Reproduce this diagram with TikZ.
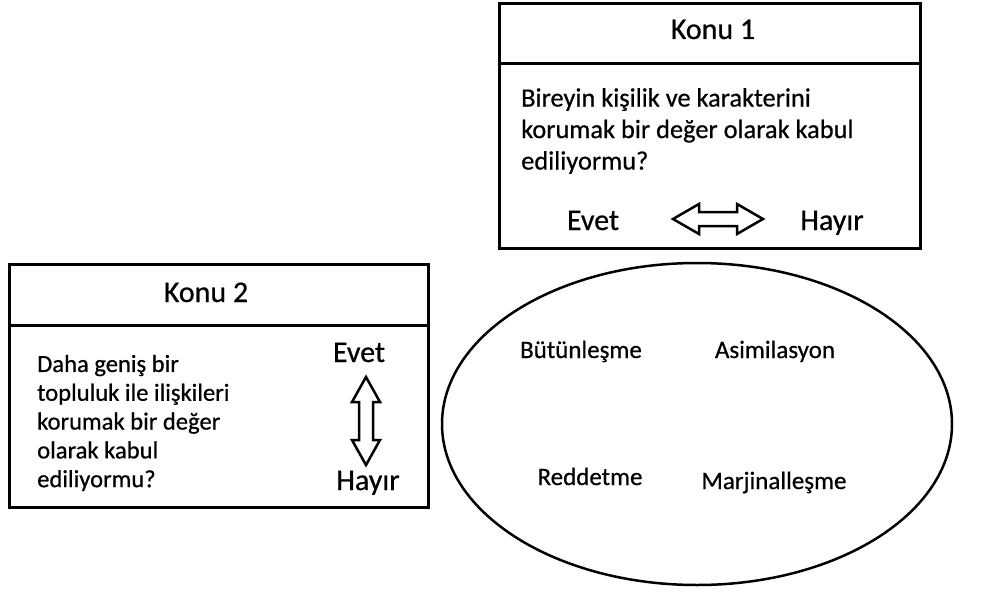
\documentclass[tikz,border=0pt]{standalone}
\usepackage{fontspec}
\setmainfont[RawFeature={embolden=0.6}]{Carlito}
\usetikzlibrary{shapes.geometric}
\begin{document}
\begin{tikzpicture}[x=1pt,y=-1pt,
  frame/.style={draw=black, line width=3pt},
  title/.style={font=\fontsize{30}{34}\selectfont, inner sep=0pt, anchor=base},
  body/.style={align=left, inner sep=0pt, anchor=west},
  lbl/.style={font=\fontsize{25}{28}\selectfont, inner sep=0pt, anchor=base},
  dbl/.style={draw=black, line width=2.5pt, fill=white, line join=miter}
]
\useasboundingbox (0,0) rectangle (986,594);
% Box 1
\coordinate (b1nw) at (499,4);
\coordinate (b1se) at (920,248);
\draw[frame] (b1nw) rectangle (b1se);
\coordinate (b1dl) at (499,64);
\coordinate (b1dr) at (920,64);
\draw[frame] (b1dl) -- (b1dr);
\node[title] (k1) at (713,39) {Konu 1};
\node[body, font=\fontsize{26.4}{31.5}\selectfont] (q1) at (521,131) {Bireyin kişilik ve karakterini\\korumak bir değer olarak kabul\\ediliyormu?};
\node[title] (e1) at (593,230) {Evet};
\node[title] (h1) at (832,230) {Hayır};
% horizontal double arrow
\draw[dbl] (673,219) -- (699,204) -- (699,212) -- (737,212) -- (737,204) -- (763,219)
  -- (737,234) -- (737,226) -- (699,226) -- (699,234) -- cycle;
% Box 2
\coordinate (b2nw) at (9,264);
\coordinate (b2se) at (428,507);
\draw[frame] (b2nw) rectangle (b2se);
\coordinate (b2dl) at (9,325);
\coordinate (b2dr) at (428,325);
\draw[frame] (b2dl) -- (b2dr);
\node[title] (k2) at (206,302) {Konu 2};
\node[body, font=\fontsize{24.6}{28.8}\selectfont] (q2) at (37,423) {Daha geniş bir\\topluluk ile ilişkileri\\korumak bir değer\\olarak kabul\\ediliyormu?};
\node[title] (e2) at (359,362) {Evet};
\node[title] (h2) at (368,490) {Hayır};
% vertical double arrow
\draw[dbl] (366,377) -- (380,402) -- (373,402) -- (373,440) -- (380,440) -- (366,465)
  -- (352,440) -- (359,440) -- (359,402) -- (352,402) -- cycle;
% Ellipse
\node[draw=black, line width=2.5pt, ellipse, minimum width=510pt, minimum height=322pt, inner sep=0pt] (el) at (697,424) {};
\node[lbl] (bu) at (581,358) {Bütünleşme};
\node[lbl] (as) at (775,358) {Asimilasyon};
\node[lbl] (re) at (590,485) {Reddetme};
\node[lbl] (ma) at (774,489) {Marjinalleşme};
\end{tikzpicture}
\end{document}
